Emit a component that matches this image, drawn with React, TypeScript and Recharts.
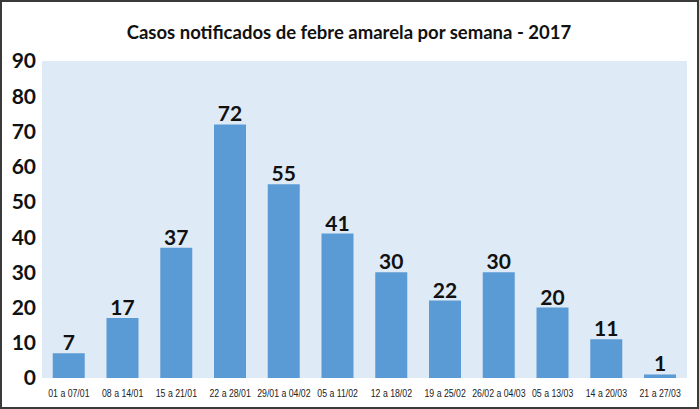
import { BarChart, Bar, XAxis, YAxis, CartesianGrid, LabelList } from 'recharts';

const semanas = [
  '01 a 07/01', '08 a 14/01', '15 a 21/01', '22 a 28/01', '29/01 a 04/02', '05 a 11/02',
  '12 a 18/02', '19 a 25/02', '26/02 a 04/03', '05 a 13/03', '14 a 20/03', '21 a 27/03',
];
const casos = [7, 17, 37, 72, 55, 41, 30, 22, 30, 20, 11, 1];
const yTicks = [0, 10, 20, 30, 40, 50, 60, 70, 80, 90];

const data = semanas.map((semana, i) => ({ semana, casos: casos[i] }));

// narrow tick text, like the Arial Narrow of the original
function NarrowTick(props: any) {
  const { x, y, payload } = props;
  return (
    <g transform={`translate(${x},${y})`}>
      <text
        x={0}
        y={0}
        dy={11}
        textAnchor="middle"
        transform="scale(0.76,1)"
        fontFamily="Liberation Sans"
        fontSize={11.5}
        fill="#222"
      >
        {payload.value}
      </text>
    </g>
  );
}

export default function App() {
  return (
    <div style={{ position: 'fixed', left: 0, top: 0, width: 699, height: 409, background: '#fff' }}>
      <div
        style={{
          position: 'absolute', left: 0, top: 0, width: 695, height: 405,
          border: '2px solid #3a3a3a', pointerEvents: 'none',
        }}
      />
      <BarChart
        width={699}
        height={409}
        data={data}
        margin={{ top: 61, right: 12, bottom: 11, left: 0 }}
        barCategoryGap="20%"
      >
        <text x={349} y={39} textAnchor="middle" fontFamily="Lato" fontWeight="bold" fontSize={18.5} fill="#111">
          Casos notificados de febre amarela por semana - 2017
        </text>
        <rect x={42} y={61} width={645} height={317} fill="#DEEAF6" />
        <CartesianGrid vertical={false} stroke="#ffffff" strokeWidth={1.5} />
        <XAxis
          dataKey="semana"
          axisLine={false}
          tickLine={false}
          interval={0}
          height={20}
          tick={<NarrowTick />}
        />
        <YAxis
          domain={[0, 90]}
          ticks={yTicks}
          axisLine={false}
          tickLine={false}
          width={42}
          tick={{ fontFamily: 'Lato', fontWeight: 'bold', fontSize: 21, fill: '#111' }}
          tickMargin={0}
        />
        <Bar dataKey="casos" fill="#5B9BD5" isAnimationActive={false}>
          <LabelList
            dataKey="casos"
            position="top"
            offset={3}
            style={{ fontFamily: 'Lato', fontWeight: 'bold', fontSize: 21, fill: '#111' }}
          />
        </Bar>
      </BarChart>
    </div>
  );
}
